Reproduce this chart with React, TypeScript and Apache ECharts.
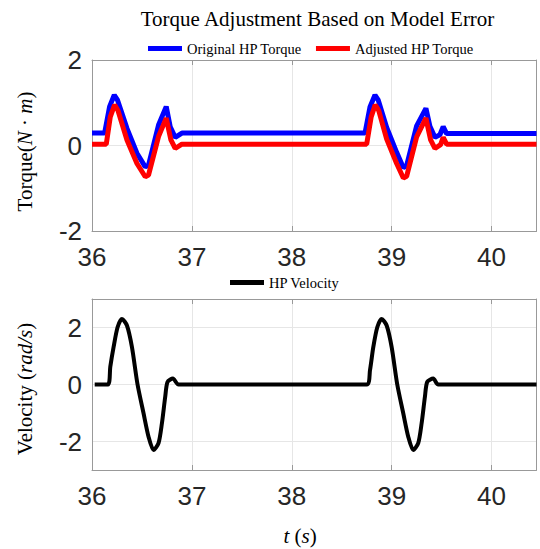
import React, { useEffect, useRef } from "react";
import * as echarts from "echarts";

const xTicks = [36, 37, 38, 39, 40];

const origTime = [36.0, 36.126, 36.176, 36.223, 36.256, 36.35, 36.45, 36.533, 36.566, 36.666, 36.743, 36.783, 36.833, 36.9, 38.733, 38.783, 38.833, 38.866, 38.95, 39.05, 39.117, 39.15, 39.25, 39.343, 39.383, 39.433, 39.483, 39.516, 39.55, 40.45];
const origVal = [0.29, 0.29, 0.91, 1.18, 1.06, 0.40, -0.18, -0.50, -0.46, 0.48, 0.91, 0.44, 0.19, 0.29, 0.29, 0.90, 1.18, 1.06, 0.42, -0.16, -0.52, -0.47, 0.46, 0.87, 0.45, 0.19, 0.25, 0.44, 0.28, 0.28];

const adjTime = [36.0, 36.143, 36.183, 36.226, 36.26, 36.35, 36.45, 36.533, 36.566, 36.666, 36.743, 36.79, 36.833, 36.9, 38.75, 38.795, 38.835, 38.87, 38.95, 39.05, 39.117, 39.15, 39.25, 39.343, 39.39, 39.433, 39.49, 39.516, 39.55, 40.45];
const adjVal = [0.03, 0.03, 0.67, 0.95, 0.82, 0.13, -0.42, -0.73, -0.69, 0.21, 0.64, 0.13, -0.07, 0.03, 0.03, 0.67, 0.95, 0.82, 0.15, -0.42, -0.76, -0.72, 0.2, 0.64, 0.13, -0.07, 0.02, 0.19, 0.03, 0.03];

const velTime = [36.027, 36.16, 36.183, 36.216, 36.256, 36.3, 36.35, 36.4, 36.456, 36.516, 36.566, 36.616, 36.666, 36.7, 36.733, 36.756, 36.81, 36.866, 38.75, 38.783, 38.816, 38.856, 38.9, 38.95, 39.0, 39.056, 39.116, 39.166, 39.216, 39.266, 39.3, 39.333, 39.356, 39.416, 39.466, 40.45];
const velVal = [0, 0, 0.62, 1.31, 2.01, 2.3, 2.07, 1.31, 0, -1.01, -1.83, -2.3, -2.06, -1.36, -0.43, 0.09, 0.21, 0, 0, 0.5, 1.31, 2.01, 2.3, 2.07, 1.31, 0, -1.01, -1.83, -2.3, -2.06, -1.36, -0.43, 0.09, 0.21, 0, 0];

const SERIF = "Liberation Serif, Times New Roman, serif";
const SANS = "Liberation Sans, Arial, sans-serif";
const BOX = "#999999";
const GRIDC = "#e6e6e6";
const TICKC = "#262626";

function pairs(t: number[], v: number[]) {
  return t.map((x, i) => [x, v[i]]);
}

export default function App() {
  const ref = useRef<HTMLDivElement>(null);
  useEffect(() => {
    if (!ref.current) return;
    const chart = echarts.init(ref.current, undefined, { renderer: "svg" });
    const xMin = xTicks[0];
    const xMax = 40.45;
    const xBottom = (gi: number) => ({
      type: "value",
      gridIndex: gi,
      position: "bottom",
      min: xMin,
      max: xMax,
      interval: 1,
      axisLine: { show: true, onZero: false, lineStyle: { color: BOX, width: 1 } },
      axisTick: { show: true, inside: true, length: 5, lineStyle: { color: BOX } },
      axisLabel: {
        show: true,
        margin: 13,
        fontFamily: SANS,
        fontSize: 26,
        color: TICKC,
        showMaxLabel: false,
        formatter: (v: number) => (xTicks.includes(v) ? String(v) : ""),
      },
      splitLine: { show: true, lineStyle: { color: GRIDC, width: 1 } },
    });
    const xTop = (gi: number) => ({
      type: "value",
      gridIndex: gi,
      position: "top",
      min: xMin,
      max: xMax,
      interval: 1,
      axisLine: { show: true, onZero: false, lineStyle: { color: BOX, width: 1 } },
      axisTick: { show: true, inside: true, length: 5, lineStyle: { color: BOX } },
      axisLabel: { show: false },
      splitLine: { show: false },
    });
    const option: any = {
      animation: false,
      backgroundColor: "#ffffff",
      grid: [
        { left: 92, top: 60, width: 444.5, height: 171, containLabel: false },
        { left: 92, top: 299, width: 444.5, height: 171, containLabel: false },
      ],
      legend: [
        {
          data: ["Original HP Torque", "Adjusted HP Torque"],
          left: 148,
          top: 41,
          padding: 0,
          icon: "rect",
          itemWidth: 34,
          itemHeight: 5,
          itemGap: 14,
          textStyle: { fontFamily: SERIF, fontSize: 14.5, color: "#000" },
        },
        {
          data: ["HP Velocity"],
          left: 230,
          top: 275,
          padding: 0,
          icon: "rect",
          itemWidth: 34,
          itemHeight: 5,
          textStyle: { fontFamily: SERIF, fontSize: 14.5, color: "#000" },
        },
      ],
      xAxis: [xBottom(0), xTop(0), xBottom(1), xTop(1)],
      yAxis: [
        {
          type: "value",
          gridIndex: 0,
          position: "left",
          min: -2,
          max: 2,
          interval: 2,
          axisLine: { show: true, lineStyle: { color: BOX } },
          axisTick: { show: true, inside: true, length: 5, lineStyle: { color: BOX } },
          axisLabel: { margin: 10, fontFamily: SANS, fontSize: 26, color: TICKC },
          splitLine: { show: true, lineStyle: { color: GRIDC } },
        },
        {
          type: "value",
          gridIndex: 0,
          position: "right",
          min: -2,
          max: 2,
          interval: 2,
          axisLine: { show: true, lineStyle: { color: BOX } },
          axisTick: { show: true, inside: true, length: 5, lineStyle: { color: BOX } },
          axisLabel: { show: false },
          splitLine: { show: false },
        },
        {
          type: "value",
          gridIndex: 1,
          position: "left",
          min: -3,
          max: 3,
          interval: 1,
          axisLine: { show: true, lineStyle: { color: BOX } },
          axisTick: { show: false },
          axisLabel: {
            margin: 10,
            fontFamily: SANS,
            fontSize: 26,
            color: TICKC,
            formatter: (v: number) => (Math.abs(v) % 2 === 0 ? String(v) : ""),
          },
          splitLine: { show: true, lineStyle: { color: ["rgba(0,0,0,0)", GRIDC] } },
        },
        {
          type: "value",
          gridIndex: 1,
          position: "right",
          min: -3,
          max: 3,
          interval: 1,
          axisLine: { show: true, lineStyle: { color: BOX } },
          axisTick: { show: false },
          axisLabel: { show: false },
          splitLine: { show: false },
        },
      ],
      series: [
        {
          name: "Original HP Torque",
          type: "line",
          xAxisIndex: 0,
          yAxisIndex: 0,
          data: pairs(origTime, origVal),
          showSymbol: false,
          symbol: "none",
          color: "#0000ff",
          lineStyle: { color: "#0000ff", width: 5 },
        },
        {
          name: "Adjusted HP Torque",
          type: "line",
          xAxisIndex: 0,
          yAxisIndex: 0,
          data: pairs(adjTime, adjVal),
          showSymbol: false,
          symbol: "none",
          color: "#ff0000",
          lineStyle: { color: "#ff0000", width: 5 },
        },
        {
          name: "HP Velocity",
          type: "line",
          xAxisIndex: 2,
          yAxisIndex: 2,
          data: pairs(velTime, velVal),
          showSymbol: false,
          symbol: "none",
          smooth: 0.25,
          color: "#000000",
          lineStyle: { color: "#000000", width: 4 },
        },
      ],
      graphic: [
        {
          type: "text",
          x: 317.5,
          y: 19,
          style: {
            text: "Torque Adjustment Based on Model Error",
            fontFamily: SERIF,
            fontSize: 21,
            fill: "#000",
            align: "center",
            verticalAlign: "middle",
          },
        },
        {
          type: "text",
          x: 25,
          y: 151.5,
          rotation: Math.PI / 2,
          style: {
            text: "{a|Torque(}{b|N}{a| · }{b|m}{a|)}",
            fontFamily: SERIF,
            fontSize: 21,
            fill: "#000",
            align: "center",
            verticalAlign: "middle",
            rich: {
              a: { fontFamily: SERIF, fontSize: 21, fill: "#000" },
              b: { fontFamily: SERIF, fontSize: 21, fontStyle: "italic", fill: "#000" },
            },
          },
        },
        {
          type: "text",
          x: 25,
          y: 389,
          rotation: Math.PI / 2,
          style: {
            text: "{a|Velocity (}{b|rad/s}{a|)}",
            fontFamily: SERIF,
            fontSize: 21,
            fill: "#000",
            align: "center",
            verticalAlign: "middle",
            rich: {
              a: { fontFamily: SERIF, fontSize: 21, fill: "#000" },
              b: { fontFamily: SERIF, fontSize: 21, fontStyle: "italic", fill: "#000" },
            },
          },
        },
        {
          type: "text",
          x: 300,
          y: 536,
          style: {
            text: "{b|t}{a| (}{b|s}{a|)}",
            fontFamily: SERIF,
            fontSize: 21,
            fill: "#000",
            align: "center",
            verticalAlign: "middle",
            rich: {
              a: { fontFamily: SERIF, fontSize: 21, fill: "#000" },
              b: { fontFamily: SERIF, fontSize: 21, fontStyle: "italic", fill: "#000" },
            },
          },
        },
      ],
    };
    chart.setOption(option);
    return () => chart.dispose();
  }, []);
  return (
    <div
      ref={ref}
      style={{ position: "fixed", left: 0, top: 0, width: 540, height: 549, background: "#fff" }}
    />
  );
}
